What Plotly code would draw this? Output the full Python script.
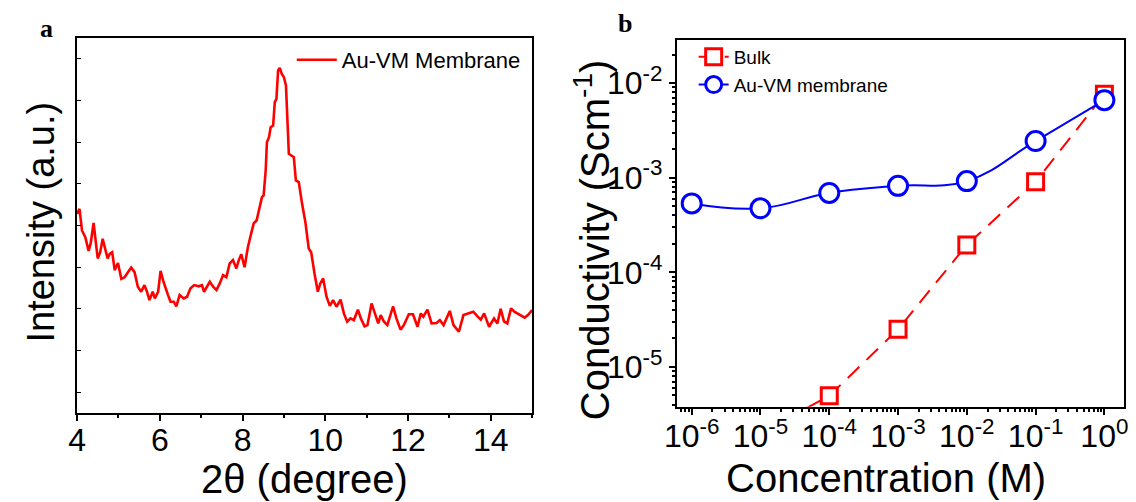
import plotly.graph_objects as go

# ---------------- Panel a data (XRD pattern) ----------------
two_theta = [4.00, 4.06, 4.12, 4.20, 4.28, 4.33, 4.40, 4.45, 4.50, 4.56, 4.62, 4.67, 4.74, 4.79, 4.85,
             4.91, 4.99, 5.07, 5.15, 5.23, 5.31, 5.39, 5.47, 5.55, 5.63, 5.69, 5.75, 5.83, 5.88, 5.96,
             6.02, 6.09, 6.14, 6.20, 6.26, 6.34, 6.40, 6.48, 6.58, 6.66, 6.74, 6.83, 6.94, 7.02, 7.07,
             7.14, 7.21, 7.29, 7.37, 7.45, 7.53, 7.61, 7.69, 7.77, 7.85, 7.91, 7.97, 8.05, 8.13, 8.21,
             8.27, 8.34, 8.40, 8.47, 8.51, 8.56, 8.59, 8.64, 8.68, 8.74, 8.78, 8.82, 8.86, 8.90, 8.95,
             9.00, 9.05, 9.12, 9.18, 9.24, 9.29, 9.36, 9.44, 9.52, 9.60, 9.66, 9.74, 9.82, 9.88, 9.95,
             10.03, 10.11, 10.19, 10.27, 10.37, 10.45, 10.53, 10.61, 10.69, 10.79, 10.86, 10.95, 11.02,
             11.12, 11.20, 11.28, 11.34, 11.42, 11.50, 11.64, 11.72, 11.82, 11.90, 12.02, 12.12, 12.23,
             12.31, 12.37, 12.47, 12.57, 12.69, 12.77, 12.86, 13.01, 13.10, 13.23, 13.34, 13.47, 13.58,
             13.68, 13.76, 13.84, 13.96, 14.08, 14.16, 14.24, 14.32, 14.40, 14.49, 14.57, 14.70, 14.82,
             14.90, 15.00]
intensity = [4.28, 4.40, 3.88, 3.72, 3.39, 3.57, 4.06, 3.65, 3.21, 3.36, 3.68, 3.48, 3.21, 3.32, 3.36,
             2.93, 3.10, 2.72, 2.76, 2.88, 2.99, 2.88, 2.53, 2.41, 2.57, 2.41, 2.21, 2.41, 2.25, 2.41,
             2.91, 2.65, 2.49, 2.33, 2.17, 2.17, 2.06, 2.33, 2.25, 2.29, 2.49, 2.57, 2.54, 2.57, 2.41,
             2.53, 2.65, 2.53, 2.45, 2.61, 2.81, 2.76, 3.09, 3.17, 2.97, 3.17, 3.31, 3.00, 3.48, 3.81,
             4.05, 4.12, 4.40, 4.68, 4.72, 5.32, 6.00, 6.12, 6.36, 6.40, 6.96, 7.04, 7.72, 7.78, 7.64,
             7.56, 7.36, 5.72, 5.68, 5.64, 5.08, 5.04, 4.52, 4.08, 3.45, 3.36, 2.85, 2.41, 2.61, 2.73,
             2.29, 2.07, 2.21, 2.05, 2.22, 1.89, 1.69, 1.77, 1.73, 1.98, 1.77, 1.58, 1.61,
             2.13, 1.89, 1.65, 1.85, 1.69, 1.61, 2.06, 1.77, 1.50, 1.61, 1.87, 1.87, 1.57,
             1.89, 1.81, 1.98, 1.65, 1.66, 1.73, 1.61, 1.95, 1.61, 1.45, 1.85, 1.90, 1.93,
             1.82, 1.74, 1.89, 1.57, 1.77, 1.65, 2.00, 1.70, 1.65, 2.01, 1.93, 1.85, 1.79,
             1.85, 1.97]
a_xticks = [4, 6, 8, 10, 12, 14]

# ---------------- Panel b data (conductivity) ----------------
conc_bulk = [1e-5, 1e-4, 1e-3, 1e-2, 1e-1, 1e0]
cond_bulk = [2.0e-6, 4.95e-6, 2.5e-5, 1.95e-4, 9.05e-4, 7.6e-3]
conc_memb = [1e-6, 1e-5, 1e-4, 1e-3, 1e-2, 1e-1, 1e0]
cond_memb = [5.35e-4, 4.75e-4, 6.9e-4, 8.2e-4, 9.2e-4, 2.44e-3, 6.6e-3]
b_xticks = [1e-6, 1e-5, 1e-4, 1e-3, 1e-2, 1e-1, 1e0]
b_xticktext = ["10<sup>-6</sup>", "10<sup>-5</sup>", "10<sup>-4</sup>", "10<sup>-3</sup>",
               "10<sup>-2</sup>", "10<sup>-1</sup>", "10<sup>0</sup>"]
b_yticks = [1e-5, 1e-4, 1e-3, 1e-2]
b_yticktext = ["10<sup>-5</sup>", "10<sup>-4</sup>", "10<sup>-3</sup>", "10<sup>-2</sup>"]

FONT = "Arial, Liberation Sans, sans-serif"
W, H = 1136, 502


def px(x):
    return x / W


def py(y):
    return 1 - y / H


fig = go.Figure()

fig.add_trace(go.Scatter(x=two_theta, y=intensity, mode="lines", name="Au-VM Membrane",
                         line=dict(color="#ff0000", width=2.6), xaxis="x", yaxis="y",
                         legend="legend"))

fig.add_trace(go.Scatter(x=conc_bulk, y=cond_bulk, mode="lines+markers", name="Bulk",
                         line=dict(color="#ff0000", width=2, dash="16px,10px"),
                         marker=dict(symbol="square", size=16, color="white",
                                     line=dict(width=3, color="#ff0000")),
                         xaxis="x2", yaxis="y2", legend="legend2"))
fig.add_trace(go.Scatter(x=conc_memb, y=cond_memb, mode="lines+markers", name="Au-VM membrane",
                         line=dict(color="#0000ff", width=2, shape="spline", smoothing=1.2),
                         marker=dict(symbol="circle", size=19, color="white",
                                     line=dict(width=3, color="#0000ff")),
                         xaxis="x2", yaxis="y2", legend="legend2"))

axis_common = dict(showline=True, linecolor="black", linewidth=2, mirror=True,
                   showgrid=False, zeroline=False, tickcolor="black")

fig.update_layout(
    width=W, height=H,
    margin=dict(l=0, r=0, t=0, b=0),
    paper_bgcolor="white", plot_bgcolor="white",
    font=dict(family=FONT, color="black"),
    xaxis=dict(domain=[px(65), px(527)], range=[4, 15], tickvals=a_xticks,
               ticks="outside", ticklen=6, tickwidth=1.5, ticklabelstandoff=-8,
               tickfont=dict(family=FONT, size=32, color="black"),
               minor=dict(ticks="outside", ticklen=3, dtick=1, tickcolor="black"),
               anchor="y", **axis_common),
    yaxis=dict(domain=[py(413), py(38)], range=[-0.5, 8.5], dtick=1, tick0=0,
               ticks="inside", ticklen=4, tickwidth=1.2, showticklabels=False,
               anchor="x", **axis_common),
    xaxis2=dict(domain=[px(674), px(1128)], type="log", range=[-6.215, 0.287],
                tickvals=b_xticks, ticktext=b_xticktext,
                ticks="outside", ticklen=6, tickwidth=1.5, ticklabelstandoff=-6,
                tickfont=dict(family=FONT, size=32, color="black"),
                minor=dict(ticks="outside", ticklen=3, dtick="D1", tickcolor="black"),
                anchor="y2", **axis_common),
    yaxis2=dict(domain=[py(406.7), py(40)], type="log", range=[-5.42, -1.545],
                tickvals=b_yticks, ticktext=b_yticktext,
                ticks="outside", ticklen=6, tickwidth=1.5,
                tickfont=dict(family=FONT, size=32, color="black"),
                minor=dict(ticks="outside", ticklen=3, dtick="D1", tickcolor="black"),
                anchor="x2", **axis_common),
    legend=dict(x=px(283), y=py(39), xanchor="left", yanchor="top",
                bgcolor="rgba(0,0,0,0)", font=dict(family=FONT, size=22, color="black"),
                itemwidth=40, tracegroupgap=0),
    legend2=dict(x=px(691), y=py(38), xanchor="left", yanchor="top",
                 bgcolor="rgba(0,0,0,0)", font=dict(family=FONT, size=19, color="black"),
                 itemwidth=30, tracegroupgap=0),
    showlegend=True,
)

annotations = [
    dict(text="2θ (degree)", x=px(296), y=py(479), xref="paper", yref="paper",
         showarrow=False, font=dict(family=FONT, size=40, color="black"),
         xanchor="center", yanchor="middle"),
    dict(text="Intensity (a.u.)", x=px(28), y=py(222), xref="paper", yref="paper",
         showarrow=False, textangle=-90, font=dict(family=FONT, size=38, color="black"),
         xanchor="center", yanchor="middle"),
    dict(text="Concentration (M)", x=px(886), y=py(478), xref="paper", yref="paper",
         showarrow=False, font=dict(family=FONT, size=40, color="black"),
         xanchor="center", yanchor="middle"),
    dict(text="Conductivity (Scm<sup>-1</sup>)", x=px(588), y=py(240), xref="paper", yref="paper",
         showarrow=False, textangle=-90, font=dict(family=FONT, size=40, color="black"),
         xanchor="center", yanchor="middle"),
    dict(text="<b>a</b>", x=px(34), y=py(29), xref="paper", yref="paper",
         showarrow=False, font=dict(family="Liberation Serif, Times New Roman, serif", size=26,
                                    color="black"),
         xanchor="center", yanchor="middle"),
    dict(text="<b>b</b>", x=px(621), y=py(24), xref="paper", yref="paper",
         showarrow=False, font=dict(family="Liberation Serif, Times New Roman, serif", size=26,
                                    color="black"),
         xanchor="center", yanchor="middle"),
]
fig.update_layout(annotations=annotations)

fig.write_html("out.html")
